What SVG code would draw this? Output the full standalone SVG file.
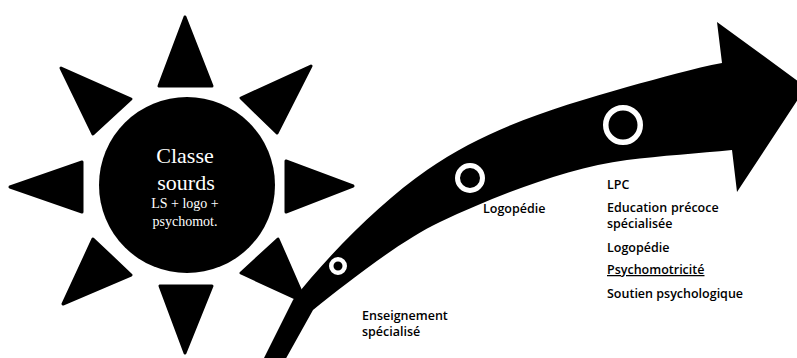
<svg xmlns="http://www.w3.org/2000/svg" width="797" height="358" viewBox="0 0 797 358">
<style>
.ray{fill:#000;stroke:#000;stroke-width:3;stroke-linejoin:round}
.ctext{font-family:"Liberation Serif",serif;fill:#fff;text-anchor:middle}
.lbl{font-family:"Open Sans","Noto Sans",sans-serif;font-weight:600;font-size:12.5px;fill:#000}
.ring{fill:none;stroke:#fff}
</style>
<rect width="797" height="358" fill="#fff"/>
<g id="sun">
<polygon class="ray" points="185,17 159,86 212,86"/>
<polygon class="ray" points="185,353 160,286 212,286"/>
<polygon class="ray" points="10,187 82,162 82,212"/>
<polygon class="ray" points="353,186 286,161 286,212"/>
<polygon class="ray" points="61,68 131,99 93,134"/>
<polygon class="ray" points="311,66 241,98 277,133"/>
<polygon class="ray" points="93,239 131,275 63,304"/>
<polygon class="ray" points="278,239 241,273 306,303"/>
<circle cx="187" cy="185" r="88" fill="#000"/>
<text class="ctext" x="185" y="163" font-size="22">Classe</text>
<text class="ctext" x="186" y="190" font-size="22">sourds</text>
<text class="ctext" x="185" y="208" font-size="14">LS + logo +</text>
<text class="ctext" x="185" y="226" font-size="14">psychomot.</text>
</g>
<g id="connectors">
<path id="arrow" fill="#000" d="M262,362 L293,300 C328,255 382,201 427,170 C492,125 562,106 627,87 C660,78 695,68 722,63 L717,22 L806,87 L737,192 L732,150 C700,153 660,156 627,160 C567,168 500,194 440,222 C400,241 348,282 313,310 L284,362 Z"/>
</g>
<g id="stage1">
<circle class="ring" cx="338" cy="266" r="6.75" stroke-width="4.5"/>
<text class="lbl" x="362" y="320">Enseignement</text>
<text class="lbl" x="362" y="336">spécialisé</text>
</g>
<g id="stage2">
<circle class="ring" cx="470" cy="178" r="12.5" stroke-width="5"/>
<text class="lbl" x="483" y="213">Logopédie</text>
</g>
<g id="stage3">
<circle class="ring" cx="623" cy="125" r="17.25" stroke-width="5.5"/>
<text class="lbl" x="607" y="189">LPC</text>
<text class="lbl" x="607" y="212">Education</text>
<text class="lbl" x="671" y="212">précoce</text>
<text class="lbl" x="607" y="228">spécialisée</text>
<text class="lbl" x="607" y="252">Logopédie</text>
<text class="lbl" x="607" y="274" text-decoration="underline">Psychomotricité</text>
<text class="lbl" x="607" y="298">Soutien psychologique</text>
</g>
</svg>
